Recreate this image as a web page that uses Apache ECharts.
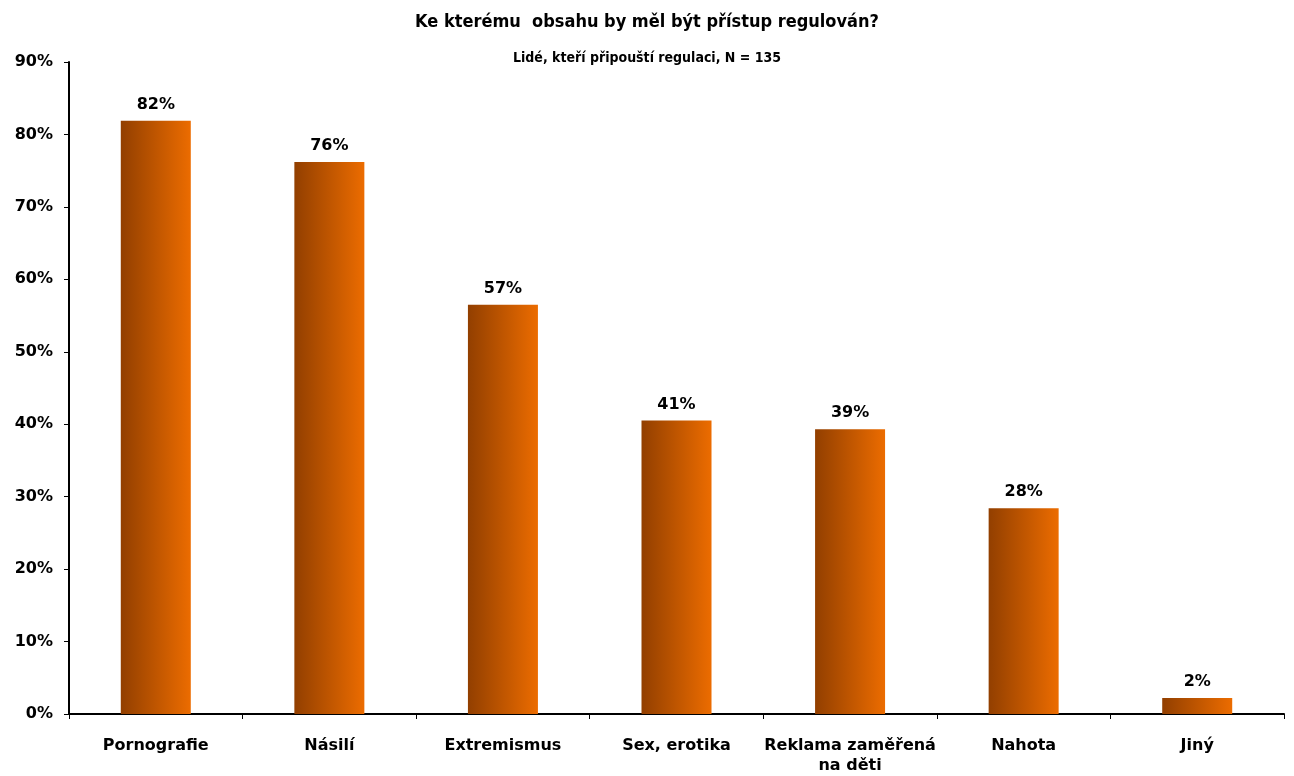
<!DOCTYPE html>
<html><head><meta charset="utf-8">
<script src="https://cdn.jsdelivr.net/npm/echarts@6/dist/echarts.min.js"></script>
<style>html,body{margin:0;padding:0;background:#fff}#c{width:1294px;height:776px}</style>
</head><body><div id="c"></div>
<script>
const categories = ['Pornografie', 'Násilí', 'Extremismus', 'Sex, erotika', 'Reklama zaměřená\nna děti', 'Nahota', 'Jiný'];
const values = [81.9, 76.2, 56.5, 40.5, 39.3, 28.4, 2.2];
const labels = ['82%', '76%', '57%', '41%', '39%', '28%', '2%'];
const titleText = 'Ke kterému  obsahu by měl být přístup regulován?';
const subtitleText = 'Lidé, kteří připouští regulaci, N = 135';

const chart = echarts.init(document.getElementById('c'));
const font = 'Verdana, "DejaVu Sans", sans-serif';
chart.setOption({
  animation: false,
  backgroundColor: '#fff',
  title: [
    {text: titleText, left: 'center', top: 8, textStyle: {fontFamily: '"DejaVu Sans Condensed", "DejaVu Sans", sans-serif', fontWeight: 'bold', fontSize: 18, color: '#000'}},
    {text: subtitleText, left: 'center', top: 46, textStyle: {fontFamily: '"DejaVu Sans Condensed", "DejaVu Sans", sans-serif', fontWeight: 'bold', fontSize: 14, color: '#000'}}
  ],
  grid: {left: 69, right: 10, top: 62, bottom: 59, containLabel: false},
  xAxis: {
    type: 'category', data: categories,
    axisLine: {lineStyle: {color: '#000', width: 2}},
    axisTick: {show: true, length: 5, lineStyle: {color: '#000', width: 1}},
    axisLabel: {fontFamily: font, fontWeight: 'bold', fontSize: 16, color: '#000', margin: 22, lineHeight: 20, interval: 0}
  },
  yAxis: {
    type: 'value', min: 0, max: 90, interval: 10,
    axisLine: {show: true, lineStyle: {color: '#000', width: 2}},
    axisTick: {show: true, length: 5, lineStyle: {color: '#000', width: 1}},
    splitLine: {show: false},
    axisLabel: {formatter: '{value}%', fontFamily: font, fontWeight: 'bold', fontSize: 16, color: '#000', margin: 16}
  },
  series: [{
    type: 'bar', data: values, barWidth: 70,
    itemStyle: {color: new echarts.graphic.LinearGradient(0, 0, 1, 0, [
      {offset: 0, color: '#923f00'}, {offset: 1, color: '#ec6c00'}
    ])},
    label: {show: true, position: 'top', distance: 8, formatter: p => labels[p.dataIndex], fontFamily: font, fontWeight: 'bold', fontSize: 16, color: '#000'}
  }]
});
</script></body></html>
